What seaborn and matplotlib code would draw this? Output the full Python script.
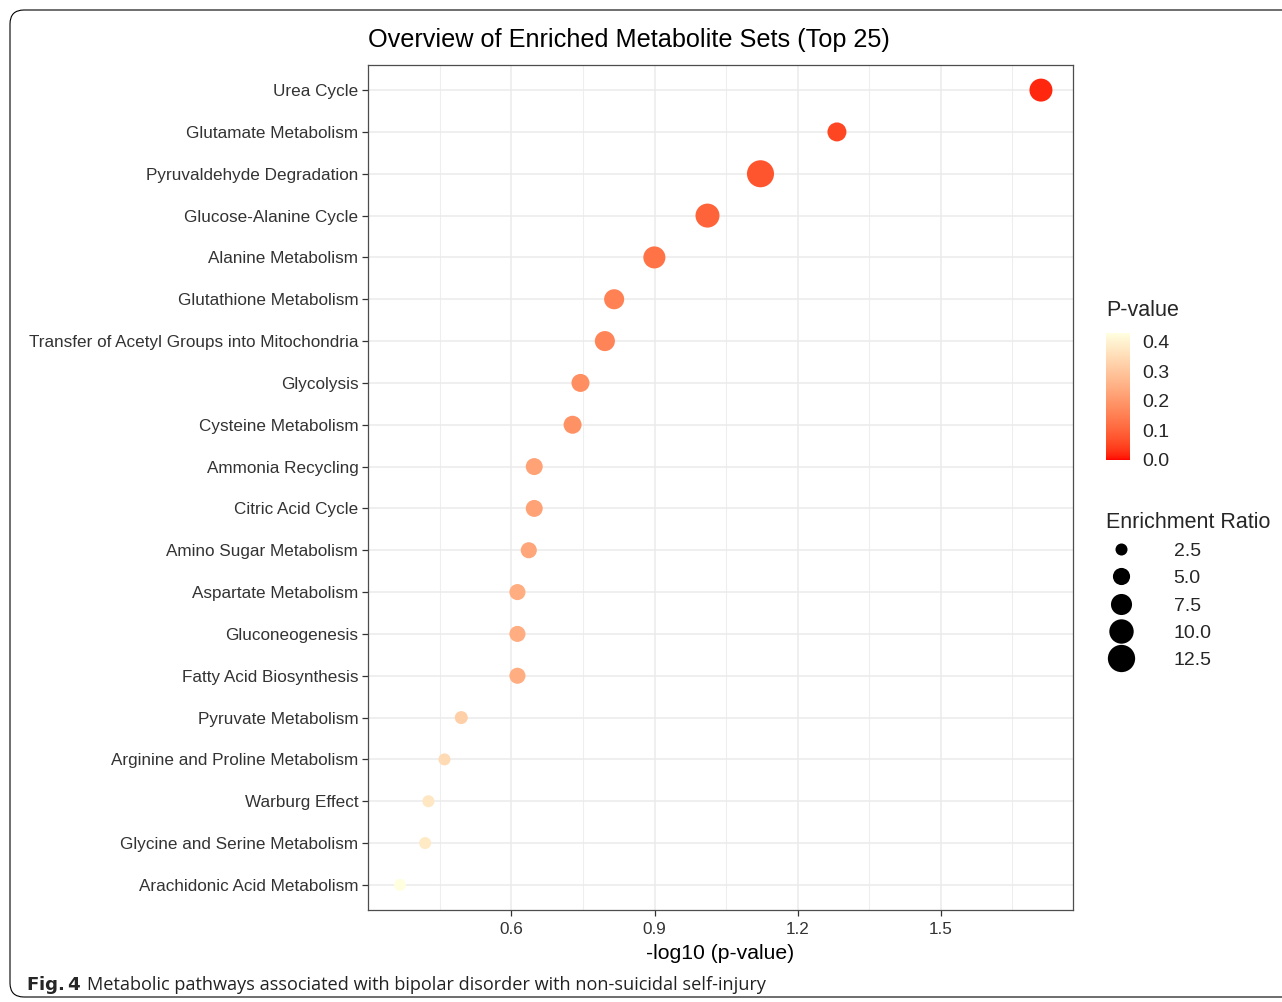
import numpy as np
import pandas as pd
import seaborn as sns
import matplotlib
matplotlib.use("Agg")
import matplotlib.pyplot as plt
from matplotlib.colors import LinearSegmentedColormap, Normalize
from matplotlib.cm import ScalarMappable
from matplotlib.lines import Line2D
from matplotlib.patches import FancyBboxPatch
from matplotlib.ticker import FixedLocator
from matplotlib.transforms import IdentityTransform

PATHWAYS = [
    "Urea Cycle", "Glutamate Metabolism", "Pyruvaldehyde Degradation",
    "Glucose-Alanine Cycle", "Alanine Metabolism", "Glutathione Metabolism",
    "Transfer of Acetyl Groups into Mitochondria", "Glycolysis",
    "Cysteine Metabolism", "Ammonia Recycling", "Citric Acid Cycle",
    "Amino Sugar Metabolism", "Aspartate Metabolism", "Gluconeogenesis",
    "Fatty Acid Biosynthesis", "Pyruvate Metabolism",
    "Arginine and Proline Metabolism", "Warburg Effect",
    "Glycine and Serine Metabolism", "Arachidonic Acid Metabolism",
]
P_VALUES = [0.0195, 0.0522, 0.0755, 0.0975, 0.126, 0.153, 0.160, 0.180,
            0.187, 0.225, 0.225, 0.231, 0.244, 0.244, 0.244, 0.320,
            0.347, 0.375, 0.381, 0.430]
ENRICHMENT = [8.9, 6.1, 12.3, 9.7, 8.2, 6.8, 6.8, 5.5, 5.5, 4.9, 4.9, 4.4,
              4.4, 4.4, 4.4, 2.9, 2.5, 2.1, 2.1, 1.45]
X_TICKS = [0.6, 0.9, 1.2, 1.5]
SIZE_BREAKS = [2.5, 5.0, 7.5, 10.0, 12.5]
P_TICKS = [0.0, 0.1, 0.2, 0.3, 0.4]

W, H = 1282, 1002
SIZES = (75, 386)
SIZE_NORM = (2.5, 12.5)
P_NORM = (0.0, 0.43)


def lab_cmap(c_low, c_high, n=256):
    # ggplot-style gradient: interpolate in CIELAB
    def to_lin(c):
        c = np.asarray(c, float)
        return np.where(c <= 0.04045, c / 12.92, ((c + 0.055) / 1.055) ** 2.4)

    def from_lin(c):
        c = np.clip(c, 0, 1)
        return np.where(c <= 0.0031308, c * 12.92, 1.055 * c ** (1 / 2.4) - 0.055)

    M = np.array([[0.4124, 0.3576, 0.1805],
                  [0.2126, 0.7152, 0.0722],
                  [0.0193, 0.1192, 0.9505]])
    white = M @ np.ones(3)

    def f(t):
        return np.where(t > (6 / 29) ** 3, np.cbrt(t), t / (3 * (6 / 29) ** 2) + 4 / 29)

    def finv(t):
        return np.where(t > 6 / 29, t ** 3, 3 * (6 / 29) ** 2 * (t - 4 / 29))

    def to_lab(rgb):
        xyz = M @ to_lin(rgb) / white
        fx, fy, fz = f(xyz)
        return np.array([116 * fy - 16, 500 * (fx - fy), 200 * (fy - fz)])

    def from_lab(lab):
        L, a, b = lab
        fy = (L + 16) / 116
        xyz = np.array([finv(fy + a / 500), finv(fy), finv(fy - b / 200)]) * white
        return from_lin(np.linalg.solve(M, xyz))

    lo = to_lab(matplotlib.colors.to_rgb(c_low))
    hi = to_lab(matplotlib.colors.to_rgb(c_high))
    cols = [from_lab(lo + (hi - lo) * t) for t in np.linspace(0, 1, n)]
    return LinearSegmentedColormap.from_list("ggrad", cols)


cmap = lab_cmap("#FF0000", "#FFFFE0")

df = pd.DataFrame({
    "pathway": PATHWAYS,
    "p": P_VALUES,
    "ratio": ENRICHMENT,
})
df["logp"] = -np.log10(df["p"])

sns.set_style("white")
plt.rcParams["font.family"] = ["Liberation Sans", "DejaVu Sans"]

fig = plt.figure(figsize=(W / 100, H / 100), dpi=100)
ax = fig.add_axes([368 / W, 1 - 910 / H, (1073 - 368) / W, (910 - 65) / H])

sns.scatterplot(data=df, x="logp", y="pathway", hue="p", size="ratio",
                palette=cmap, hue_norm=P_NORM, sizes=SIZES,
                size_norm=SIZE_NORM, linewidth=0, legend=False, ax=ax,
                zorder=3)

span = df["logp"].max() - df["logp"].min()
ax.set_xlim(df["logp"].min() - 0.05 * span, df["logp"].max() + 0.05 * span)
ax.set_ylim(len(PATHWAYS) - 0.4, -0.6)
ax.xaxis.set_major_locator(FixedLocator(X_TICKS))
minor = [(a + b) / 2 for a, b in zip(X_TICKS[:-1], X_TICKS[1:])]
minor = [X_TICKS[0] - 0.15] + minor + [X_TICKS[-1] + 0.15]
ax.xaxis.set_minor_locator(FixedLocator(minor))
ax.grid(which="major", color="#EBEBEB", lw=1.1)
ax.grid(which="minor", axis="x", color="#EEEEEE", lw=0.8)
ax.set_axisbelow(True)
for s in ax.spines.values():
    s.set_color("#4D4D4D")
    s.set_linewidth(0.9)
ax.tick_params(which="major", length=4, width=0.9, color="#333333",
               labelsize=12.3, labelcolor="#333333", pad=3,
               left=True, bottom=True)
ax.tick_params(axis="x", which="major", pad=5)
ax.tick_params(which="minor", length=0)
ax.set_ylabel("")
ax.set_xlabel("-log10 (p-value)", fontsize=15.2, color="black", labelpad=5)
ax.set_title("Overview of Enriched Metabolite Sets (Top 25)", loc="left",
             fontsize=18.2, color="black", pad=13)

# P-value colorbar
cax = fig.add_axes([1106 / W, 1 - 460 / H, 24 / W, 127 / H])
cb = fig.colorbar(ScalarMappable(norm=Normalize(*P_NORM), cmap=cmap),
                  cax=cax, ticks=P_TICKS)
cb.outline.set_visible(False)
cax.set_yticklabels([f"{t:.1f}" for t in P_TICKS])
cax.tick_params(direction="in", color="white", length=4, width=0.8,
                left=True, right=True, labelleft=False, labelright=True,
                labelsize=14, pad=9)
cax.set_title("P-value", loc="left", fontsize=15.5, pad=12)


# Enrichment ratio size legend
def marker_size(v):
    t = (v - SIZE_NORM[0]) / (SIZE_NORM[1] - SIZE_NORM[0])
    return np.sqrt(SIZES[0] + t * (SIZES[1] - SIZES[0]))


handles = [Line2D([], [], marker="o", ls="", color="black", markeredgewidth=0,
                  markersize=marker_size(v)) for v in SIZE_BREAKS]
leg = fig.legend(handles, [f"{v:.1f}" for v in SIZE_BREAKS],
                 title="Enrichment Ratio", loc="upper left",
                 bbox_to_anchor=(1092 / W, 1 - 498 / H), frameon=False,
                 fontsize=14, title_fontsize=15.5, alignment="left",
                 labelspacing=0.5, handlelength=1.6, handletextpad=1.9,
                 borderpad=0.2)

# caption and rounded frame
fig.text(26 / W, 1 - 985 / H, r"$\bf{Fig. 4}$", fontsize=13.1, va="center",
         family="Open Sans")
fig.text(87 / W, 1 - 985 / H,
         "Metabolic pathways associated with bipolar disorder with non-suicidal self-injury",
         fontsize=13.1, va="center", family="Open Sans", color="#222222")
fig.add_artist(FancyBboxPatch((10, 5), 1320, 987,
                              boxstyle="round,pad=0,rounding_size=14",
                              transform=IdentityTransform(), fill=False,
                              ec="black", lw=0.8))

fig.savefig("out.png", dpi=100)
